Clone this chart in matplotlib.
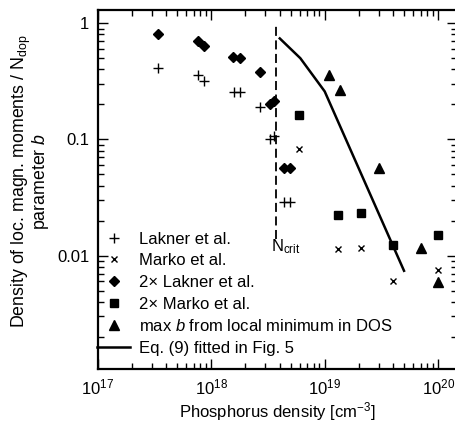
import matplotlib
matplotlib.use("Agg")
import matplotlib.pyplot as plt
from matplotlib.ticker import FixedLocator, FuncFormatter, LogLocator

plt.rcParams['font.family'] = ['Liberation Sans', 'DejaVu Sans']
plt.rcParams['mathtext.fontset'] = 'custom'
plt.rcParams['mathtext.rm'] = 'Liberation Sans'
plt.rcParams['mathtext.it'] = 'Liberation Sans:italic'
plt.rcParams['font.size'] = 12

# ------------------------------------------------------------------
# Data
# ------------------------------------------------------------------
lakner_x = [3.37e17, 7.6e17, 8.7e17, 1.58e18, 1.78e18, 2.7e18, 3.28e18, 3.55e18, 4.37e18, 4.9e18]
lakner_y = [0.41, 0.36, 0.32, 0.257, 0.257, 0.189, 0.101, 0.108, 0.0288, 0.0288]

marko_x = [5.9e18, 1.32e19, 2.07e19, 4.03e19, 1.0e20]
marko_y = [0.083, 0.0113, 0.0117, 0.0061, 0.0075]

lakner2_x = [3.37e17, 7.6e17, 8.7e17, 1.56e18, 1.78e18, 2.68e18, 3.28e18, 3.56e18, 4.37e18, 4.97e18]
lakner2_y = [0.81, 0.71, 0.64, 0.51, 0.50, 0.377, 0.203, 0.215, 0.057, 0.057]

marko2_x = [5.9e18, 1.32e19, 2.07e19, 4.03e19, 1.0e20]
marko2_y = [0.161, 0.0223, 0.0234, 0.0123, 0.015]

maxb_x = [1.09e19, 1.36e19, 3.01e19, 7.0e19, 1.0e20]
maxb_y = [0.36, 0.267, 0.057, 0.0117, 0.0059]

fit_x = [4.02e18, 6.1e18, 1.0e19, 5.0e19]
fit_y = [0.74, 0.50, 0.259, 0.0074]

n_crit = 3.73e18
n_crit_span = [0.0138, 1.0]

labels = ['Lakner et al.', 'Marko et al.', '2\u00d7 Lakner et al.', '2\u00d7 Marko et al.',
          'max $b$ from local minimum in DOS', 'Eq. (9) fitted in Fig. 5']

y_ticks = [0.01, 0.1, 1]

# ------------------------------------------------------------------
# Figure
# ------------------------------------------------------------------
fig = plt.figure(figsize=(4.56, 4.24), dpi=100)
ax = fig.add_axes([97.7 / 456, 1 - 369.3 / 424, 1 - 97.7 / 456 + 0.002, (369.3 - 10) / 424])

h1, = ax.plot(lakner_x, lakner_y, '+', color='k', ms=7, mew=1.0, ls='none')
h2, = ax.plot(marko_x, marko_y, 'x', color='k', ms=5, mew=1.0, ls='none')
h3, = ax.plot(lakner2_x, lakner2_y, 'D', color='k', ms=5, ls='none')
h4, = ax.plot(marko2_x, marko2_y, 's', color='k', ms=5.5, ls='none')
h5, = ax.plot(maxb_x, maxb_y, '^', color='k', ms=6.5, ls='none')
h6, = ax.plot(fit_x, fit_y, '-', color='k', lw=1.8)

ax.plot([n_crit, n_crit], n_crit_span, color='k', lw=1.3, ls=(0, (5, 2.5)))
ax.text(n_crit * 0.9, 0.0145, 'N$_{\\mathrm{crit}}$', ha='left', va='top', fontsize=12)

ax.set_xscale('log')
ax.set_yscale('log')
ax.set_xlim(1e17, 10 ** 20.165)
ax.set_ylim(1.05e-3, 1.3)

ax.yaxis.set_major_locator(FixedLocator(y_ticks))
ax.yaxis.set_major_formatter(FuncFormatter(lambda v, p: '%g' % v))
ax.yaxis.set_minor_locator(LogLocator(base=10, subs=range(2, 10), numticks=20))
ax.yaxis.set_minor_formatter(FuncFormatter(lambda v, p: ''))
ax.xaxis.set_major_locator(LogLocator(base=10, numticks=10))
ax.xaxis.set_minor_locator(LogLocator(base=10, subs=range(2, 10), numticks=20))

ax.tick_params(which='both', direction='in', top=True, right=True, width=1.0)
ax.tick_params(which='major', length=7, pad=6)
ax.tick_params(which='minor', length=4)
for sp in ax.spines.values():
    sp.set_linewidth(1.6)

ax.set_xlabel('Phosphorus density [cm$^{-3}$]', labelpad=2)
ax.set_ylabel('Density of loc. magn. moments / N$_{\\mathrm{dop}}$\nparameter $b$',
              fontsize=12.8, linespacing=0.8)
ax.yaxis.set_label_coords(-0.13, 0.524)

ax.legend([h1, h2, h3, h4, h5, h6], labels, loc='lower left', frameon=False,
          bbox_to_anchor=(-0.034, 0.005), handlelength=2.0, handletextpad=0.5,
          labelspacing=0.4, borderaxespad=0.3, fontsize=12)

fig.savefig('out.png', dpi=100)
